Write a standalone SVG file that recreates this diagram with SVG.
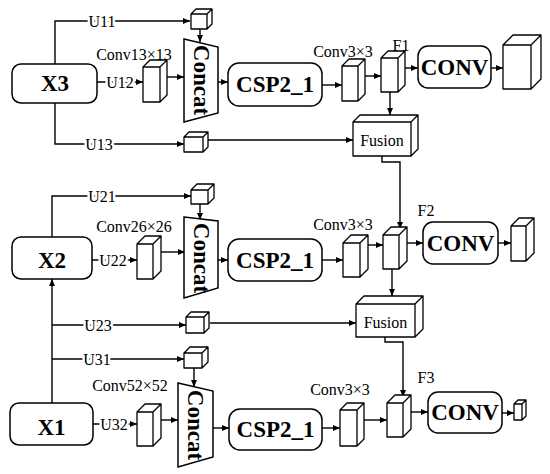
<svg xmlns="http://www.w3.org/2000/svg" width="550" height="474" viewBox="0 0 550 474">
<style>
.ln{fill:none;stroke:#000;stroke-width:1.4}
.ar{marker-end:url(#ah)}
.bx{fill:#fff;stroke:#000;stroke-width:1.5}
.cb{fill:#fff;stroke:#000;stroke-width:1.3;stroke-linejoin:round}
.t{font-family:"Liberation Serif","Times New Roman",serif;fill:#000}
.u{font-size:16px;text-anchor:middle;paint-order:stroke;stroke:#fff;stroke-width:5px}
.lb{font-size:16px;text-anchor:middle}
.bd{font-weight:bold;font-size:23px;text-anchor:middle}
.cc{font-weight:bold;font-size:23px;text-anchor:middle;dominant-baseline:central}
.fu{font-size:16px;text-anchor:middle}
</style>
<defs>
<marker id="ah" markerWidth="8" markerHeight="6" refX="7" refY="3" orient="auto" markerUnits="userSpaceOnUse">
<path d="M0,0 L7,3 L0,6 Z" fill="#000"/>
</marker>
</defs>
<rect width="550" height="474" fill="#fff"/>

<g id="connectors">
<path class="ln ar" d="M55,64 V21 H190"/>
<path class="ln ar" d="M200,29 V42"/>
<path class="ln ar" d="M97,82 H143"/>
<path class="ln ar" d="M167,77 H184"/>
<path class="ln ar" d="M218,82 H228"/>
<path class="ln ar" d="M55,103 V144 H184"/>
<path class="ln ar" d="M208,140 H353"/>
<path class="ln ar" d="M322,85 H342"/>
<path class="ln ar" d="M365,76 H381"/>
<path class="ln ar" d="M405,68 H418"/>
<path class="ln ar" d="M491,68 H503"/>
<path class="ln ar" d="M390,92 V115"/>
<path class="ln ar" d="M382,156 V162 H400 V229"/>

<path class="ln ar" d="M52,237 V196 H191"/>
<path class="ln ar" d="M200,204 V220"/>
<path class="ln ar" d="M92,260 H137"/>
<path class="ln ar" d="M161,252 H185"/>
<path class="ln ar" d="M218,260 H228"/>
<path class="ln ar" d="M322,260 H343"/>
<path class="ln ar" d="M368,245 H383"/>
<path class="ln ar" d="M407,243 H423"/>
<path class="ln ar" d="M498,243 H511"/>
<path class="ln ar" d="M392,269 V296"/>
<path class="ln ar" d="M385,337 V342 H403 V397"/>

<path class="ln ar" d="M52,403 V279"/>
<path class="ln ar" d="M52,325 H186"/>
<path class="ln ar" d="M210,323 H356"/>
<path class="ln ar" d="M52,359 H184"/>
<path class="ln ar" d="M194,368 V387"/>
<path class="ln ar" d="M93,424 H137"/>
<path class="ln ar" d="M161,420 H178"/>
<path class="ln ar" d="M213,428 H229"/>
<path class="ln ar" d="M322,428 H340"/>
<path class="ln ar" d="M364,420 H387"/>
<path class="ln ar" d="M411,412 H428"/>
<path class="ln ar" d="M502,413 H514"/>

<text class="t u" x="102" y="27">U11</text>
<text class="t u" x="120" y="88">U12</text>
<text class="t u" x="99" y="150">U13</text>
<text class="t u" x="102" y="202">U21</text>
<text class="t u" x="113" y="266">U22</text>
<text class="t u" x="98" y="331">U23</text>
<text class="t u" x="97" y="365">U31</text>
<text class="t u" x="114" y="430">U32</text>
</g>

<!-- Section 3 (top) -->
<g id="X3"><rect class="bx" x="12" y="64" width="85" height="39" rx="9"/><text class="t bd" x="55" y="91">X3</text></g>
<g id="cube-u11"><path class="cb" d="M191,29 V14 L196,9 H212 V24 L207,29 Z M191,14 H207 V29 M207,14 L212,9"/></g>
<g id="conv13"><path class="cb" d="M143,102 V67 L150,60 H167 V95 L160,102 Z M143,67 H160 V102 M160,67 L167,60"/><text class="t lb" x="134" y="60">Conv13×13</text></g>
<g id="concat1"><polygon class="bx" points="184,39 218,47 218,113 184,122"/><text class="t cc" transform="translate(201,80) rotate(90)">Concat</text></g>
<g id="cube-u13"><path class="cb" d="M184,152 V137 L189,132 H208 V147 L203,152 Z M184,137 H203 V152 M203,137 L208,132"/></g>
<g id="csp1"><rect class="bx" x="228" y="63" width="94" height="43" rx="11"/><text class="t bd" x="275" y="92">CSP2_1</text></g>
<g id="conv3-1"><text class="t lb" x="343" y="57">Conv3×3</text><path class="cb" d="M342,101 V66 L349,59 H365 V94 L358,101 Z M342,66 H358 V101 M358,66 L365,59"/></g>
<g id="F1"><text class="t lb" x="401" y="51">F1</text><path class="cb" d="M381,92 V58 L388,51 H405 V85 L398,92 Z M381,58 H398 V92 M398,58 L405,51"/></g>
<g id="conv-1"><rect class="bx" x="418" y="46" width="73" height="42" rx="10"/><text class="t bd" x="454.5" y="75">CONV</text></g>
<g id="out1"><path class="cb" d="M503,89 V45 L513,35 H541 V79 L531,89 Z M503,45 H531 V89 M531,45 L541,35"/></g>
<g id="fusion1"><path class="cb" d="M353,156 V122 L360,115 H418 V149 L411,156 Z M353,122 H411 V156 M411,122 L418,115"/><text class="t fu" x="382" y="146">Fusion</text></g>

<!-- Section 2 -->
<g id="X2"><rect class="bx" x="12" y="237" width="80" height="42" rx="9"/><text class="t bd" x="52" y="268">X2</text></g>
<g id="cube-u21"><path class="cb" d="M191,204 V190 L197,184 H214 V198 L208,204 Z M191,190 H208 V204 M208,190 L214,184"/></g>
<g id="conv26"><text class="t lb" x="134" y="232">Conv26×26</text><path class="cb" d="M137,279 V244 L145,236 H161 V271 L153,279 Z M137,244 H153 V279 M153,244 L161,236"/></g>
<g id="concat2"><polygon class="bx" points="184,217 218,221 218,288 184,298"/><text class="t cc" transform="translate(201,258) rotate(90)">Concat</text></g>
<g id="csp2"><rect class="bx" x="228" y="239" width="94" height="42" rx="11"/><text class="t bd" x="275" y="268">CSP2_1</text></g>
<g id="conv3-2"><text class="t lb" x="343" y="230">Conv3×3</text><path class="cb" d="M343,277 V243 L351,235 H368 V269 L360,277 Z M343,243 H360 V277 M360,243 L368,235"/></g>
<g id="F2"><text class="t lb" x="426" y="216">F2</text><path class="cb" d="M383,269 V235 L391,227 H407 V261 L399,269 Z M383,235 H399 V269 M399,235 L407,227"/></g>
<g id="conv-2"><rect class="bx" x="423" y="222" width="75" height="42" rx="10"/><text class="t bd" x="460.5" y="251">CONV</text></g>
<g id="out2"><path class="cb" d="M511,261 V226 L519,218 H534 V253 L526,261 Z M511,226 H526 V261 M526,226 L534,218"/></g>
<g id="fusion2"><path class="cb" d="M356,337 V304 L364,296 H423 V329 L415,337 Z M356,304 H415 V337 M415,304 L423,296"/><text class="t fu" x="385.5" y="328">Fusion</text></g>
<g id="cube-u23"><path class="cb" d="M186,333 V317 L191,312 H209 V328 L204,333 Z M186,317 H204 V333 M204,317 L209,312"/></g>

<!-- Section 1 -->
<g id="cube-u31"><path class="cb" d="M184,368 V353 L190,347 H208 V362 L202,368 Z M184,353 H202 V368 M202,353 L208,347"/></g>
<g id="X1"><rect class="bx" x="10" y="403" width="83" height="42" rx="9"/><text class="t bd" x="51.5" y="435">X1</text></g>
<g id="conv52"><text class="t lb" x="130" y="391">Conv52×52</text><path class="cb" d="M137,446 V412 L145,404 H161 V438 L153,446 Z M137,412 H153 V446 M153,412 L161,404"/></g>
<g id="concat3"><polygon class="bx" points="178,383 213,391 213,457 178,467"/><text class="t cc" transform="translate(195.5,425) rotate(90)">Concat</text></g>
<g id="csp3"><rect class="bx" x="229" y="409" width="93" height="41" rx="11"/><text class="t bd" x="275.5" y="437">CSP2_1</text></g>
<g id="conv3-3"><text class="t lb" x="340" y="395">Conv3×3</text><path class="cb" d="M340,446 V410 L347,403 H364 V439 L357,446 Z M340,410 H357 V446 M357,410 L364,403"/></g>
<g id="F3"><text class="t lb" x="426" y="383">F3</text><path class="cb" d="M387,437 V403 L395,395 H411 V429 L403,437 Z M387,403 H403 V437 M403,403 L411,395"/></g>
<g id="conv-3"><rect class="bx" x="428" y="392" width="74" height="41" rx="10"/><text class="t bd" x="465" y="420">CONV</text></g>
<g id="out3"><path class="cb" d="M514,420 V404 L518,400 H526 V416 L522,420 Z M514,404 H522 V420 M522,404 L526,400"/></g>
</svg>
